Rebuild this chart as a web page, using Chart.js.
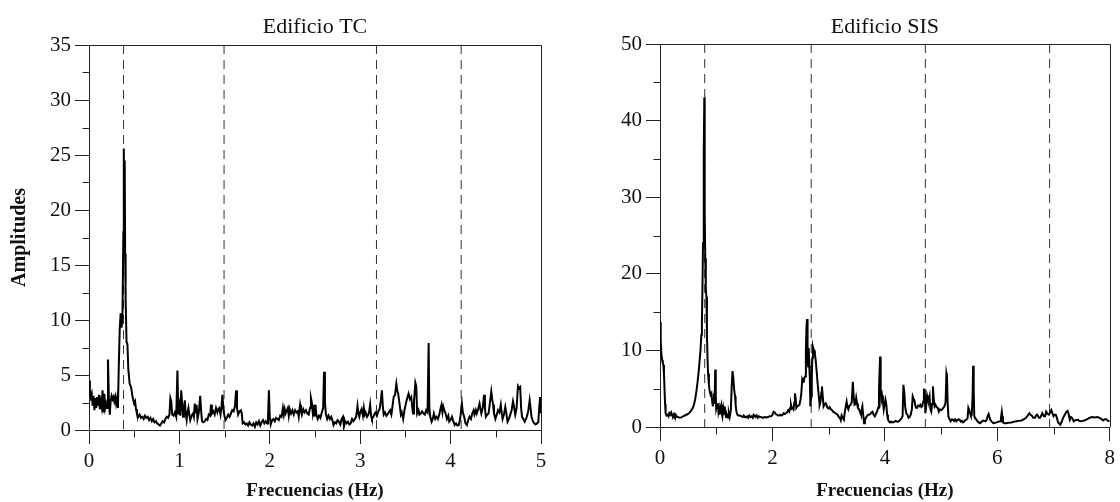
<!DOCTYPE html>
<html><head><meta charset="utf-8">
<script src="https://cdn.jsdelivr.net/npm/chart.js@4.4.1/dist/chart.umd.min.js"></script>
<style>
html,body{margin:0;padding:0;background:#fff;width:1120px;height:502px;overflow:hidden}
canvas{position:absolute;top:0}
#c1{left:0}
#c2{left:560px}
</style></head><body>
<canvas id="c1" width="560" height="502"></canvas>
<canvas id="c2" width="560" height="502"></canvas>
<script>
// ---------- Edificio TC ----------
const titleTC = 'Edificio TC';
const freqTC = [0.000,0.010,0.020,0.030,0.040,0.050,0.060,0.070,0.080,0.090,0.100,0.110,0.120,0.130,0.140,0.150,0.160,0.170,0.180,0.190,0.200,0.210,0.220,0.230,0.240,0.250,0.260,0.270,0.280,0.290,0.300,0.310,0.320,0.330,0.340,0.350,0.360,0.370,0.380,0.385,0.390,0.395,0.400,0.405,0.415,0.425,0.435,0.450,0.465,0.480,0.490,0.500,0.510,0.520,0.530,0.545,0.560,0.575,0.590,0.605,0.620,0.635,0.650,0.665,0.680,0.695,0.710,0.725,0.740,0.755,0.770,0.785,0.800,0.815,0.830,0.845,0.860,0.875,0.890,0.900,0.910,0.920,0.935,0.950,0.965,0.978,0.988,1.000,1.010,1.020,1.030,1.040,1.050,1.060,1.070,1.080,1.090,1.100,1.110,1.120,1.135,1.150,1.160,1.170,1.180,1.190,1.200,1.215,1.230,1.240,1.250,1.265,1.280,1.295,1.310,1.325,1.340,1.350,1.360,1.375,1.390,1.405,1.420,1.430,1.440,1.455,1.465,1.476,1.486,1.500,1.510,1.525,1.540,1.555,1.570,1.585,1.600,1.615,1.627,1.637,1.650,1.665,1.680,1.690,1.700,1.715,1.730,1.745,1.760,1.775,1.790,1.805,1.820,1.835,1.850,1.865,1.880,1.895,1.910,1.925,1.940,1.955,1.970,1.980,1.990,2.000,2.010,2.025,2.040,2.055,2.070,2.085,2.100,2.115,2.130,2.145,2.155,2.165,2.175,2.190,2.200,2.210,2.220,2.235,2.250,2.265,2.280,2.295,2.310,2.320,2.335,2.345,2.355,2.370,2.385,2.400,2.415,2.430,2.445,2.455,2.465,2.475,2.485,2.495,2.505,2.515,2.530,2.545,2.560,2.575,2.590,2.600,2.610,2.620,2.635,2.650,2.665,2.680,2.695,2.705,2.720,2.735,2.750,2.765,2.780,2.795,2.810,2.820,2.835,2.850,2.865,2.880,2.895,2.910,2.925,2.940,2.955,2.970,2.980,2.990,3.000,3.015,3.030,3.040,3.050,3.060,3.075,3.090,3.100,3.110,3.120,3.130,3.145,3.160,3.170,3.185,3.200,3.215,3.230,3.240,3.250,3.260,3.275,3.290,3.300,3.315,3.330,3.345,3.355,3.370,3.385,3.400,3.410,3.420,3.435,3.450,3.460,3.475,3.490,3.505,3.520,3.535,3.550,3.565,3.575,3.585,3.595,3.610,3.620,3.630,3.645,3.655,3.670,3.685,3.700,3.715,3.730,3.745,3.757,3.765,3.775,3.790,3.805,3.815,3.830,3.845,3.860,3.875,3.890,3.900,3.910,3.920,3.930,3.945,3.960,3.975,3.985,4.000,4.015,4.030,4.045,4.060,4.075,4.090,4.100,4.110,4.125,4.135,4.150,4.165,4.180,4.195,4.210,4.225,4.240,4.255,4.265,4.280,4.290,4.305,4.320,4.330,4.340,4.355,4.370,4.380,4.390,4.405,4.420,4.435,4.450,4.460,4.470,4.480,4.495,4.510,4.525,4.540,4.555,4.565,4.575,4.590,4.605,4.615,4.630,4.645,4.660,4.675,4.690,4.700,4.715,4.730,4.745,4.760,4.770,4.780,4.790,4.805,4.820,4.835,4.850,4.860,4.875,4.885,4.895,4.910,4.925,4.940,4.955,4.970,4.980,4.990,5.000];
const ampTC = [4.5,3.6,3.0,3.3,2.2,3.1,1.8,2.9,2.0,3.0,2.3,3.2,1.9,2.6,2.1,3.6,1.6,3.3,2.0,2.4,2.0,6.4,2.8,1.4,2.7,3.1,2.8,3.0,2.6,3.0,2.4,2.9,2.0,6.0,9.2,10.6,9.3,10.2,18.0,25.6,19.0,24.5,16.0,12.0,8.0,7.8,5.5,4.2,3.9,3.1,2.7,2.4,2.6,1.9,1.5,1.2,1.4,1.1,1.2,1.0,1.3,1.1,1.2,0.9,1.1,0.8,1.0,0.7,0.8,0.6,0.5,0.4,0.6,0.8,0.7,1.0,1.2,1.1,1.4,2.9,2.6,1.4,1.3,1.6,1.2,5.4,1.4,2.2,1.3,3.6,2.4,1.2,1.9,2.7,1.5,0.9,1.6,2.0,1.4,0.9,1.3,1.5,1.2,2.4,1.5,2.3,1.0,1.6,3.1,1.8,0.8,0.7,0.8,1.0,0.9,1.4,1.3,2.3,1.5,1.7,1.4,2.0,1.6,1.9,2.0,1.4,2.1,3.2,1.9,1.2,0.9,1.1,1.4,1.2,1.5,1.8,1.7,2.2,3.6,2.0,1.4,1.7,1.8,1.5,0.6,0.7,0.5,0.6,0.4,0.7,0.5,0.4,0.6,0.3,0.7,0.5,0.8,0.4,0.7,0.9,0.6,0.8,0.6,1.0,3.6,1.2,0.5,0.9,1.0,0.8,1.1,1.0,0.9,1.3,1.2,2.0,1.4,1.9,1.5,1.8,2.0,1.3,1.9,1.5,1.8,1.4,1.8,1.6,1.7,1.2,2.3,1.8,1.4,1.9,1.6,1.8,1.5,1.4,2.0,2.9,2.5,1.6,2.3,1.2,2.3,1.4,1.0,1.3,1.1,1.6,2.0,5.3,2.5,1.5,1.0,1.3,1.0,1.2,0.8,0.45,0.7,0.6,0.9,0.75,0.5,1.0,1.2,0.3,0.8,0.6,0.75,0.5,0.6,1.0,0.8,1.0,1.2,2.2,1.5,1.2,1.6,1.9,1.3,2.0,1.4,1.6,1.2,1.4,1.7,2.3,1.3,1.0,1.2,1.5,1.6,1.3,1.7,1.9,2.8,3.6,2.2,1.4,1.6,1.3,1.4,1.6,1.8,1.4,2.0,3.0,3.2,4.2,3.6,3.3,2.4,1.4,1.6,1.0,1.8,2.4,2.9,3.3,2.8,3.0,2.1,1.5,2.6,4.3,4.0,1.5,1.8,1.4,1.5,1.7,1.5,1.4,1.8,1.6,7.9,2.0,1.2,0.75,1.1,1.5,1.0,1.2,1.0,1.4,2.0,2.3,1.6,2.1,1.8,1.5,1.0,1.3,0.75,0.9,1.2,0.8,0.45,0.6,0.4,0.45,0.8,1.3,2.4,1.6,1.2,0.6,0.45,0.9,1.2,1.0,1.5,1.8,1.4,1.8,1.5,1.9,2.4,1.9,1.5,2.0,3.2,2.0,1.2,1.4,1.5,2.5,3.5,2.8,2.3,1.5,1.0,1.4,1.8,1.6,2.3,1.6,1.0,1.4,2.1,1.6,0.75,1.0,1.4,1.8,2.6,2.2,1.4,2.0,4.0,3.8,3.9,2.0,1.2,1.0,0.75,1.0,1.4,1.8,2.7,2.0,1.2,0.8,0.6,0.5,0.6,0.7,2.0,3.0,1.5];
const modesTC = [0.382, 1.494, 3.18, 4.117];
const xTicksTC = [0, 1, 2, 3, 4, 5];
const yTicksTC = [0, 5, 10, 15, 20, 25, 30, 35];

// ---------- Edificio SIS ----------
const titleSIS = 'Edificio SIS';
const freqSIS = [0.000,0.012,0.025,0.040,0.050,0.060,0.070,0.077,0.090,0.100,0.115,0.135,0.150,0.165,0.180,0.200,0.215,0.230,0.250,0.265,0.280,0.300,0.320,0.350,0.380,0.410,0.440,0.470,0.500,0.530,0.560,0.590,0.610,0.630,0.650,0.670,0.690,0.705,0.720,0.735,0.745,0.755,0.765,0.775,0.782,0.788,0.792,0.798,0.805,0.815,0.825,0.835,0.845,0.855,0.870,0.885,0.900,0.915,0.930,0.940,0.950,0.960,0.972,0.982,0.992,1.000,1.015,1.030,1.040,1.050,1.060,1.075,1.090,1.100,1.110,1.125,1.135,1.150,1.160,1.175,1.190,1.210,1.225,1.240,1.260,1.275,1.290,1.305,1.320,1.335,1.345,1.360,1.370,1.390,1.420,1.450,1.470,1.490,1.510,1.530,1.550,1.570,1.590,1.610,1.630,1.650,1.665,1.680,1.700,1.720,1.740,1.760,1.780,1.800,1.830,1.860,1.890,1.920,1.950,1.980,2.000,2.020,2.040,2.060,2.080,2.100,2.120,2.140,2.160,2.180,2.200,2.220,2.240,2.260,2.280,2.300,2.315,2.330,2.345,2.360,2.375,2.390,2.400,2.415,2.425,2.440,2.460,2.480,2.500,2.515,2.530,2.545,2.560,2.580,2.595,2.605,2.615,2.625,2.635,2.645,2.655,2.665,2.675,2.690,2.700,2.710,2.720,2.730,2.740,2.755,2.770,2.785,2.800,2.815,2.830,2.840,2.855,2.870,2.880,2.895,2.910,2.930,2.950,2.965,2.980,3.000,3.020,3.040,3.060,3.080,3.100,3.120,3.140,3.160,3.180,3.200,3.215,3.230,3.250,3.270,3.285,3.300,3.320,3.335,3.350,3.370,3.390,3.410,3.430,3.445,3.460,3.475,3.490,3.505,3.520,3.540,3.560,3.575,3.590,3.600,3.615,3.630,3.645,3.660,3.680,3.700,3.720,3.740,3.760,3.780,3.800,3.820,3.840,3.860,3.880,3.895,3.905,3.915,3.925,3.935,3.950,3.965,3.980,3.995,4.010,4.025,4.040,4.055,4.070,4.090,4.110,4.130,4.160,4.190,4.220,4.250,4.280,4.300,4.315,4.330,4.345,4.360,4.380,4.400,4.420,4.440,4.460,4.480,4.495,4.510,4.525,4.540,4.555,4.570,4.590,4.610,4.630,4.650,4.665,4.680,4.695,4.710,4.720,4.735,4.750,4.765,4.780,4.795,4.810,4.825,4.840,4.855,4.870,4.885,4.900,4.920,4.940,4.960,4.980,5.000,5.020,5.040,5.060,5.080,5.095,5.105,5.115,5.130,5.150,5.170,5.190,5.210,5.230,5.250,5.270,5.290,5.310,5.330,5.350,5.370,5.390,5.410,5.430,5.450,5.470,5.485,5.500,5.515,5.530,5.545,5.560,5.570,5.580,5.590,5.610,5.630,5.650,5.670,5.690,5.710,5.730,5.750,5.770,5.790,5.810,5.830,5.845,5.860,5.875,5.900,5.930,5.960,5.990,6.020,6.050,6.065,6.080,6.090,6.100,6.130,6.160,6.200,6.250,6.300,6.340,6.380,6.430,6.470,6.510,6.540,6.570,6.590,6.610,6.640,6.670,6.690,6.710,6.740,6.760,6.790,6.800,6.830,6.850,6.870,6.895,6.920,6.940,6.960,6.980,7.000,7.020,7.040,7.060,7.080,7.100,7.120,7.150,7.170,7.200,7.230,7.250,7.265,7.290,7.310,7.330,7.360,7.390,7.430,7.460,7.490,7.520,7.550,7.590,7.640,7.680,7.730,7.780,7.820,7.860,7.880,7.910,7.940,7.970,8.000];
const ampSIS = [13.7,11.3,9.5,8.7,8.3,8.1,7.0,5.7,3.0,1.8,1.5,1.6,1.4,1.8,1.6,1.9,1.5,1.4,1.7,1.4,1.6,1.3,1.3,1.2,1.25,1.4,1.5,1.6,1.7,1.9,2.2,2.6,3.1,3.8,4.8,6.0,7.4,8.7,10.0,12.0,13.5,18.0,24.0,30.0,36.0,43.0,34.0,28.0,22.0,18.0,17.0,12.0,9.0,7.0,5.5,4.6,4.2,4.4,3.2,2.7,3.6,4.4,3.0,7.5,4.0,2.4,2.9,3.1,2.0,2.4,1.6,2.5,2.9,1.8,1.4,2.3,1.6,2.7,1.8,1.3,1.6,1.2,1.8,1.3,2.2,5.3,7.3,6.4,4.8,4.0,2.9,2.0,1.7,1.5,1.5,1.4,1.3,1.5,1.3,1.25,1.4,1.2,1.5,1.3,1.4,1.2,1.6,1.5,1.3,1.5,1.2,1.4,1.3,1.3,1.2,1.3,1.25,1.3,1.4,1.4,1.6,2.0,1.9,1.7,1.6,1.5,1.5,1.6,1.5,1.6,1.8,1.7,1.8,1.9,2.2,2.0,2.5,2.9,2.4,2.5,2.3,3.2,4.4,3.6,2.5,2.7,2.8,2.9,3.6,4.5,6.2,5.9,6.3,6.6,10.0,13.0,14.1,9.0,7.9,10.3,8.0,6.4,2.7,4.0,6.6,9.0,10.5,10.2,10.0,9.5,8.7,7.4,6.0,4.8,3.6,2.9,3.3,4.5,5.3,4.0,2.7,3.0,3.1,2.8,2.5,2.4,2.6,2.3,2.2,2.0,1.9,1.8,1.7,1.6,1.3,1.2,0.9,1.5,1.2,0.95,1.8,2.5,3.3,2.6,2.3,2.8,2.9,3.2,5.9,4.0,2.9,3.0,3.8,3.1,2.5,2.3,1.9,1.6,2.4,2.7,1.5,0.5,0.9,1.2,1.4,1.6,1.6,1.7,1.9,2.0,1.6,1.4,1.7,2.0,2.5,4.8,7.0,9.2,5.0,3.5,4.1,3.3,2.3,3.0,3.6,3.0,1.6,1.0,0.75,0.6,0.7,0.6,0.65,0.8,0.7,0.75,1.0,1.2,1.4,5.5,4.5,2.7,1.8,1.6,1.2,1.3,1.6,2.3,4.0,3.7,3.5,2.8,2.5,2.6,2.8,2.7,2.9,2.6,2.7,3.3,5.0,4.2,1.8,2.8,4.1,3.6,3.5,4.0,2.3,2.0,3.0,5.3,3.5,2.7,2.9,2.6,2.5,2.0,2.3,2.2,2.3,2.5,2.7,3.2,7.0,6.6,3.5,1.4,1.0,0.75,1.0,0.95,0.8,1.0,0.75,0.9,1.0,0.95,0.7,0.8,0.6,0.7,0.9,0.95,1.1,2.5,2.2,1.8,1.5,1.6,4.0,8.0,5.0,1.4,1.1,0.95,0.7,0.6,0.5,0.6,0.75,0.85,0.8,0.75,0.9,1.5,1.7,1.3,0.95,0.7,0.5,0.55,0.6,0.7,0.75,1.2,2.0,1.4,0.6,0.5,0.5,0.55,0.6,0.7,0.75,0.8,0.85,1.0,1.2,1.5,1.8,1.6,1.5,1.2,1.2,1.5,1.6,1.2,1.2,1.6,1.8,1.4,1.4,2.0,1.7,1.6,1.9,2.2,1.8,1.4,1.6,1.6,1.2,0.6,0.45,0.3,0.8,1.2,1.6,2.0,2.1,1.8,0.95,1.3,1.2,0.75,0.9,0.95,0.8,0.75,0.8,0.85,1.0,1.2,1.3,1.25,1.3,1.2,1.0,0.85,1.0,1.0,0.8,0.75];
const modesSIS = [0.795, 2.69, 4.72, 6.93];
const xTicksSIS = [0, 2, 4, 6, 8];
const yTicksSIS = [0, 10, 20, 30, 40, 50];

const xLabel = 'Frecuencias (Hz)';
const yLabel = 'Amplitudes';

const SERIF = "'Liberation Serif', 'Times New Roman', serif";
const AXIS = '#222';

function pts(xs, ys) { return xs.map((x, i) => ({x: x, y: ys[i]})); }

const decorPlugin = {
  id: 'decor',
  afterDraw(chart, args, o) {
    const {ctx, chartArea: a, scales} = chart;
    const sx = scales.x, sy = scales.y;
    ctx.save();
    ctx.strokeStyle = AXIS;
    ctx.lineWidth = 1;
    ctx.beginPath();
    const top = Math.round(a.top) + 0.5, right = Math.round(a.right) + 0.5;
    ctx.moveTo(Math.round(a.left), top); ctx.lineTo(right, top);
    ctx.moveTo(right, top); ctx.lineTo(right, Math.round(a.bottom));
    const bot = Math.round(a.bottom) + 0.5, left = Math.round(a.left) + 0.5;
    for (let v = o.minorX; v < sx.max; v += o.minorX * 2) {
      const px = Math.round(sx.getPixelForValue(v)) + 0.5;
      ctx.moveTo(px, bot); ctx.lineTo(px, bot + 7);
    }
    for (let v = o.minorY; v < sy.max; v += o.minorY * 2) {
      const py = Math.round(sy.getPixelForValue(v)) + 0.5;
      ctx.moveTo(left, py); ctx.lineTo(left - 7, py);
    }
    ctx.stroke();
    ctx.fillStyle = '#111';
    ctx.font = "22px " + SERIF;
    ctx.textAlign = 'center';
    ctx.textBaseline = 'alphabetic';
    ctx.fillText(o.title, (a.left + a.right) / 2, o.titleY);
    ctx.restore();
  }
};

function makeChart(id, cfg) {
  const datasets = [{
    data: pts(cfg.freq, cfg.amp),
    borderColor: '#000', borderWidth: 2, pointRadius: 0, tension: 0,
    borderJoinStyle: 'miter'
  }];
  cfg.modes.forEach(m => datasets.push({
    data: [{x: m, y: cfg.yMax}, {x: m, y: 0}],
    borderColor: '#333', borderWidth: 1, borderDash: [9, 6], pointRadius: 0
  }));
  return new Chart(document.getElementById(id), {
    type: 'line',
    data: {datasets},
    plugins: [decorPlugin],
    options: {
      responsive: false, animation: false, devicePixelRatio: 1,
      layout: {padding: {top: cfg.padTop, right: cfg.padRight, left: 0, bottom: 0}},
      plugins: {
        legend: {display: false}, tooltip: {enabled: false}, title: {display: false},
        decor: {title: cfg.title, titleY: 33, minorX: cfg.xStep / 2, minorY: cfg.yStep / 2}
      },
      scales: {
        x: {
          type: 'linear', min: 0, max: cfg.xMax,
          afterFit: s => { s.height = cfg.xH; },
          afterBuildTicks: s => { s.ticks = cfg.xTicks.map(v => ({value: v})); },
          ticks: {color: '#111', font: {family: SERIF, size: 21}, padding: 5, maxRotation: 0, autoSkip: false},
          grid: {drawOnChartArea: false, drawTicks: true, tickLength: 14, color: AXIS, tickColor: AXIS},
          border: {display: true, color: AXIS, width: 1},
          title: {display: true, text: xLabel, color: '#111', font: {family: SERIF, size: 19, weight: 'bold'}, padding: {top: 0, bottom: 0}}
        },
        y: {
          type: 'linear', min: 0, max: cfg.yMax,
          afterFit: s => { s.width = cfg.yW; },
          afterBuildTicks: s => { s.ticks = cfg.yTicks.map(v => ({value: v})); },
          ticks: {color: '#111', font: {family: SERIF, size: 21}, padding: 4, autoSkip: false},
          grid: {drawOnChartArea: false, drawTicks: true, tickLength: 14, color: AXIS, tickColor: AXIS},
          border: {display: true, color: AXIS, width: 1},
          title: {display: cfg.yTitle, text: yLabel, color: '#111', font: {family: SERIF, size: 20, weight: 'bold'}, padding: {top: 8, bottom: 0}}
        }
      }
    }
  });
}

makeChart('c1', {title: titleTC, freq: freqTC, amp: ampTC, modes: modesTC, xTicks: xTicksTC, yTicks: yTicksTC,
  xMax: 5, yMax: 35, xStep: 1, yStep: 5, padTop: 45, padRight: 19, xH: 72, yW: 89, yTitle: true});
makeChart('c2', {title: titleSIS, freq: freqSIS, amp: ampSIS, modes: modesSIS, xTicks: xTicksSIS, yTicks: yTicksSIS,
  xMax: 8, yMax: 50, xStep: 2, yStep: 10, padTop: 44, padRight: 8, xH: 75, yW: 100, yTitle: false});
</script>
</body></html>
